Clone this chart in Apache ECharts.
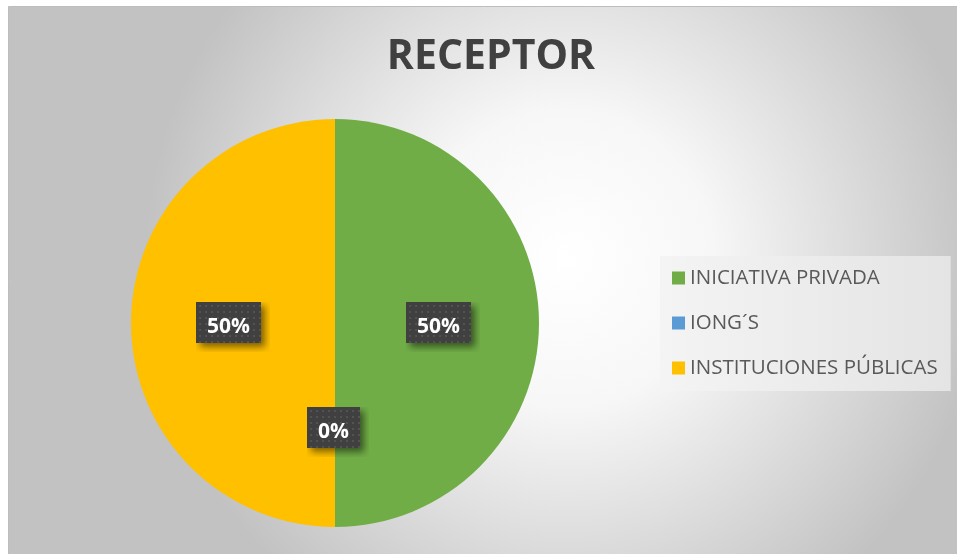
<!DOCTYPE html>
<html><head><meta charset="utf-8">
<script src="https://cdn.jsdelivr.net/npm/echarts@6/dist/echarts.min.js"></script>
<style>html,body{margin:0;padding:0;background:#fff}#c{width:957px;height:554px}</style>
</head><body><div id="c"></div>
<script>
var title = 'RECEPTOR';
var categories = ['INICIATIVA PRIVADA', 'IONG´S', 'INSTITUCIONES PÚBLICAS'];
var values = [50, 0, 50];
var colors = ['#70ad47', '#5b9bd5', '#ffc000'];

var LABEL_FONT = 'bold 21px "Open Sans"';
var PADX = 11, BOXH = 41, SH = 9;
function labelBg(text) {
  var m = document.createElement('canvas').getContext('2d');
  m.font = LABEL_FONT;
  var tw = Math.ceil(m.measureText(text).width);
  var w = tw + 2 * PADX, h = BOXH;
  var c = document.createElement('canvas');
  c.width = w + SH; c.height = h + SH;
  var g = c.getContext('2d');
  g.save();
  g.shadowColor = 'rgba(0,0,0,0.5)'; g.shadowBlur = 7; g.shadowOffsetX = 4; g.shadowOffsetY = 4;
  g.fillStyle = '#404040'; g.fillRect(0, 0, w, h);
  g.restore();
  g.fillStyle = '#535353';
  for (var y = 3; y < h - 1; y += 6) for (var x = 3; x < w - 1; x += 6) g.fillRect(x, y, 2, 2);
  return c;
}

var total = values.reduce(function (a, b) { return a + b; }, 0);
var chart = echarts.init(document.getElementById('c'), null, {renderer: 'canvas'});
chart.setOption({
  animation: false,
  graphic: [{
    type: 'rect', z: -10, silent: true,
    shape: {x: 8.5, y: 6.5, width: 960, height: 560},
    style: {
      fill: {type: 'radial', x: 0.58, y: 0.45, r: 0.75, global: false,
        colorStops: [{offset: 0, color: '#ffffff'}, {offset: 0.35, color: '#f7f7f7'}, {offset: 1, color: '#c2c2c2'}]},
      stroke: '#bdbdbd', lineWidth: 1
    }
  }],
  title: {
    text: title, left: 486, top: 32, textAlign: 'center',
    textStyle: {fontFamily: 'Open Sans', fontWeight: 'bold', fontSize: 41, color: '#404040'}
  },
  legend: {
    orient: 'vertical', left: 660, top: 256,
    padding: [10, 13, 11, 12],
    backgroundColor: {type: 'linear', x: 0, y: 0, x2: 1, y2: 0,
      colorStops: [{offset: 0, color: '#f4f4f4'}, {offset: 1, color: '#e4e4e4'}]},
    icon: 'rect', itemWidth: 13, itemHeight: 13, itemGap: 21,
    data: categories,
    textStyle: {fontFamily: 'Open Sans', fontSize: 20.5, color: '#595959', lineHeight: 24}
  },
  series: [{
    type: 'pie', center: [335, 323], radius: 204, startAngle: 90, clockwise: true,
    color: colors,
    minShowLabelAngle: 0,
    data: categories.map(function (n, i) {
      var txt = Math.round(values[i] / total * 100) + '%';
      return {name: n, value: values[i], label: {backgroundColor: {image: labelBg(txt)}}};
    }),
    label: {
      show: true, position: 'inside', formatter: '{d}%', overflow: 'none',
      fontFamily: 'Open Sans', fontWeight: 'bold', fontSize: 21, color: '#ffffff',
      padding: [8, PADX + SH, 8 + SH, PADX], lineHeight: 25,
      align: 'center', verticalAlign: 'middle', offset: [3, 4]
    },
    labelLine: {show: false},
    emphasis: {disabled: true}
  }]
});
</script></body></html>
